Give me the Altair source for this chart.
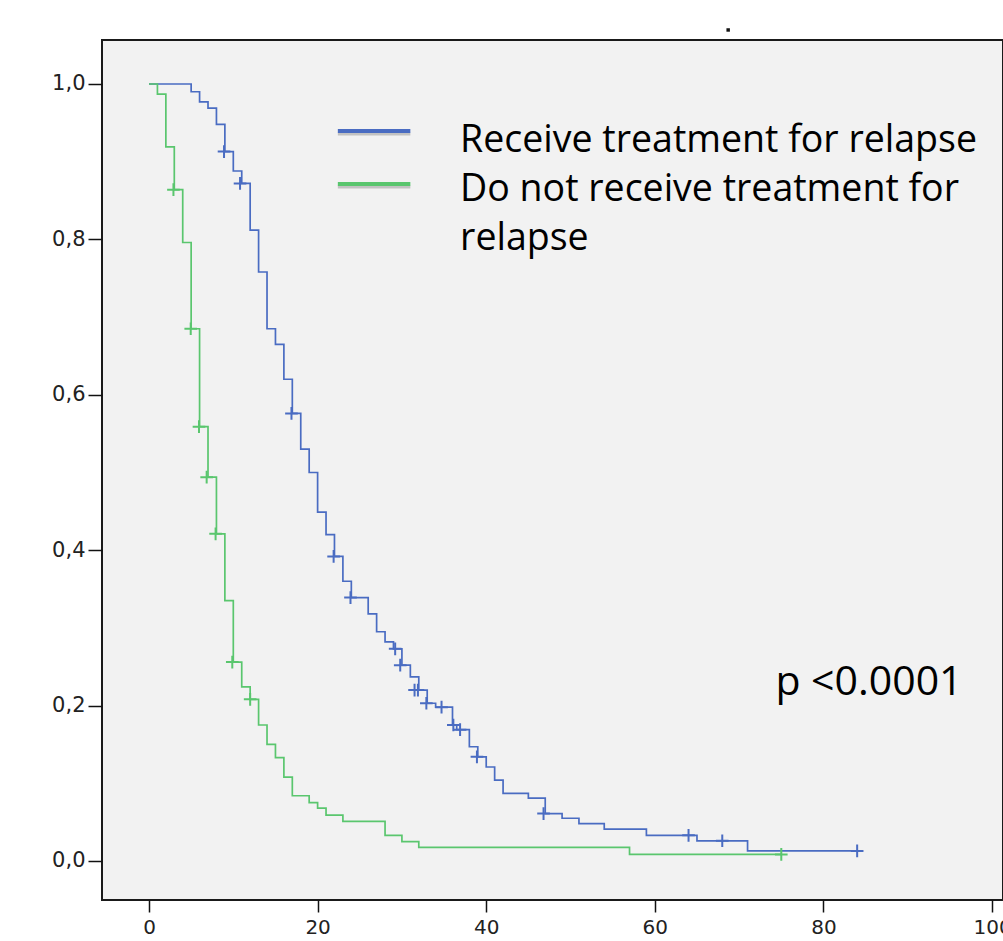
import altair as alt
import pandas as pd

# ---- data ----
blue_t = [0, 5, 6, 7, 8, 9, 10, 11, 12, 13, 14, 15, 16, 17, 18, 19, 20, 21, 22, 23, 24, 26, 27, 28,
          29, 30, 31, 32, 33, 34, 36, 36.5, 38, 39, 40, 41, 42, 45, 47, 49, 51, 54, 59, 65, 71, 84]
blue_s = [1.0, 0.990, 0.977, 0.969, 0.948, 0.913, 0.888, 0.872, 0.812, 0.758, 0.685, 0.665, 0.620,
          0.576, 0.530, 0.500, 0.449, 0.420, 0.392, 0.360, 0.339, 0.318, 0.295, 0.282, 0.273, 0.252,
          0.237, 0.220, 0.203, 0.198, 0.175, 0.169, 0.147, 0.134, 0.121, 0.104, 0.087, 0.081, 0.061,
          0.055, 0.048, 0.041, 0.033, 0.026, 0.013, 0.013]
blue_cens_t = [8.9, 10.8, 16.9, 21.9, 23.9, 29.2, 29.8, 31.5, 31.9, 32.9, 34.7, 36.1, 36.9, 38.9,
               46.8, 64, 68, 84]
blue_cens_s = [0.913, 0.872, 0.576, 0.392, 0.339, 0.273, 0.252, 0.220, 0.220, 0.203, 0.198, 0.175,
               0.169, 0.134, 0.061, 0.033, 0.026, 0.013]

green_t = [0, 1, 2, 3, 4, 5, 6, 7, 8, 9, 10, 11, 12, 13, 14, 15, 16, 17, 19, 20, 21, 23, 28, 30,
           32, 57, 75]
green_s = [1.0, 0.987, 0.919, 0.864, 0.796, 0.685, 0.559, 0.494, 0.421, 0.335, 0.256, 0.224, 0.208,
           0.175, 0.150, 0.133, 0.108, 0.084, 0.075, 0.068, 0.059, 0.051, 0.033, 0.025, 0.0175,
           0.0085, 0.0085]
green_cens_t = [2.9, 4.95, 5.93, 6.84, 7.9, 9.88, 12, 75]
green_cens_s = [0.864, 0.685, 0.559, 0.494, 0.421, 0.256, 0.208, 0.0085]

groups = ["Receive treatment for relapse", "Do not receive treatment for relapse"]
line_colors = ["#4A6CC2", "#5AC66E"]
mark_colors = ["#3A5BB3", "#3DB052"]
legend_colors = ["#1447FF", "#058A0E"]
x_ticks = [0, 20, 40, 60, 80, 100]
y_ticks = [0.0, 0.2, 0.4, 0.6, 0.8, 1.0]
p_text = "p <0.0001"

# ---- tables ----
curves = pd.concat([
    pd.DataFrame({"t": blue_t, "s": blue_s, "g": groups[0]}),
    pd.DataFrame({"t": green_t, "s": green_s, "g": groups[1]}),
])
cens = pd.concat([
    pd.DataFrame({"t": blue_cens_t, "s": blue_cens_s, "g": groups[0]}),
    pd.DataFrame({"t": green_cens_t, "s": green_cens_s, "g": groups[1]}),
])
leg_lines = pd.DataFrame({"t": [22.4, 22.4], "t2": [31.0, 31.0], "s": [0.9395, 0.8713],
                          "g": groups})
leg_text = pd.DataFrame({"t": [36.9, 36.9, 36.9],
                         "s": [0.913, 0.850, 0.786],
                         "txt": ["Receive treatment for relapse", "Do not receive treatment for",
                                 "relapse"]})
p_df = pd.DataFrame({"t": [74.3], "s": [0.214], "txt": [p_text]})
dot_df = pd.DataFrame({"t": [68.7], "s": [1.0695]})

XMIN, XMAX = -5.575, 101.3
YMIN, YMAX = -0.0502, 1.0566

xs = alt.Scale(domain=[XMIN, XMAX], nice=False, zero=False)
ys = alt.Scale(domain=[YMIN, YMAX], nice=False, zero=False)
xaxis = alt.Axis(values=x_ticks, format="d", title="", grid=False, domain=False,
                 tickSize=12, tickWidth=1.5, tickColor="#111", labelFontSize=20,
                 labelFont="DejaVu Sans", labelColor="#222", labelPadding=5)
yaxis = alt.Axis(values=y_ticks, labelExpr="replace(format(datum.value, '.1f'), '.', ',')",
                 title="", grid=False, domain=False, tickSize=14, tickWidth=1.5,
                 tickColor="#111", labelFontSize=21, labelFont="DejaVu Sans",
                 labelColor="#222", labelPadding=3)

col_line = alt.Color("g:N", scale=alt.Scale(domain=groups, range=line_colors), legend=None)

base_x = alt.X("t:Q", scale=xs, axis=xaxis)
base_y = alt.Y("s:Q", scale=ys, axis=yaxis)

lines = alt.Chart(curves).mark_line(interpolate="step-after", strokeWidth=1.7).encode(
    x=base_x, y=base_y, color=col_line, detail="g:N")

plus = "M-1,0L1,0M0,-1L0,1"
marks = alt.Chart(cens).mark_point(shape=plus, size=160, filled=False, strokeWidth=2,
                                   opacity=1).encode(
    x=alt.X("t:Q", scale=xs), y=alt.Y("s:Q", scale=ys),
    color=alt.Color("g:N", scale=alt.Scale(domain=groups, range=mark_colors), legend=None))

leg_shadow = alt.Chart(leg_lines).mark_rule(strokeWidth=3, color="#888", opacity=0.45).encode(
    x=alt.X("t:Q", scale=xs), x2="t2:Q",
    y=alt.Y("s:Q", scale=ys), yOffset=alt.value(3))
leg_rules = alt.Chart(leg_lines).mark_rule(strokeWidth=4).encode(
    x=alt.X("t:Q", scale=xs), x2="t2:Q", y=alt.Y("s:Q", scale=ys),
    color=alt.Color("g:N", scale=alt.Scale(domain=groups, range=legend_colors), legend=None))

texts = alt.Chart(leg_text).mark_text(align="left", baseline="alphabetic", font="Open Sans",
                                      fontSize=37.5, color="#000").encode(
    x=alt.X("t:Q", scale=xs), y=alt.Y("s:Q", scale=ys), text="txt:N")
ptext = alt.Chart(p_df).mark_text(align="left", baseline="alphabetic", font="Open Sans",
                                  fontSize=41, color="#000").encode(
    x=alt.X("t:Q", scale=xs), y=alt.Y("s:Q", scale=ys), text="txt:N")
dot = alt.Chart(dot_df).mark_point(shape="square", size=12, filled=True, color="#111",
                                   opacity=1).encode(
    x=alt.X("t:Q", scale=xs), y=alt.Y("s:Q", scale=ys))

chart = alt.layer(lines, marks, leg_shadow, leg_rules, texts, ptext, dot).properties(
    width=901, height=860,
    autosize=alt.AutoSizeParams(type="none"),
    padding={"left": 102, "top": 40, "right": 0, "bottom": 41},
    background="#FFFFFF",
).configure_view(fill="#F2F2F2", stroke="#1A1A1A", strokeWidth=2)

chart.save("out.html", embed_options={"renderer": "svg", "actions": False})
